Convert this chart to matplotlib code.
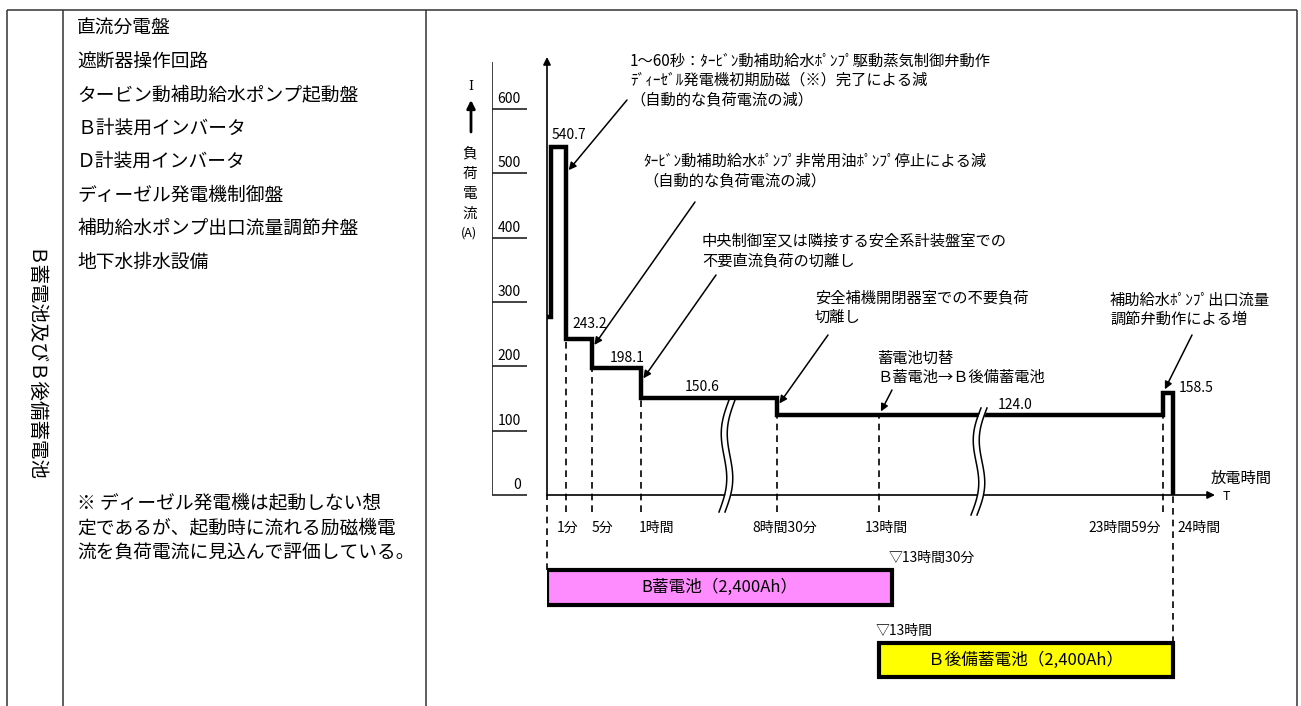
import numpy as np
import matplotlib
matplotlib.use('Agg')
import matplotlib.pyplot as plt

# Japanese glyphs + fallback
plt.rcParams['font.family'] = ['Noto Sans CJK JP', 'DejaVu Sans']

W, H = 1301, 706

# load current profile: time (sec) / current (A)
times = [0, 1, 60, 300, 3600, 30600, 86340, 86400]
currents = [277, 540.7, 243.2, 198.1, 150.6, 124.0, 158.5, 0]
value_labels = ['540.7', '243.2', '198.1', '150.6', '124.0', '158.5']

tick_times = [60, 300, 3600, 30600, 46800, 86340, 86400]
tick_labels = ['1分', '5分', '1時間', '8時間30分', '13時間', '23時間59分', '24時間']

scale_ticks = [0, 100, 200, 300, 400, 500, 600]

equipment = ['直流分電盤', '遮断器操作回路', 'タービン動補助給水ポンプ起動盤',
             'Ｂ計装用インバータ', 'Ｄ計装用インバータ', 'ディーゼル発電機制御盤',
             '補助給水ポンプ出口流量調節弁盤', '地下水排水設備']
note = ['※ ディーゼル発電機は起動しない想',
        '定であるが、起動時に流れる励磁機電',
        '流を負荷電流に見込んで評価している。']

batteries = ['B蓄電池（2,400Ah）', 'Ｂ後備蓄電池（2,400Ah）']
bat_start = [0, 46800]
bat_end = [48600, 86400]
bat_colors = ['#ff8cff', '#ffff00']
bat_marks = ['▽13時間30分', '▽13時間']
bat_mark_times = [48600, 46800]

notes = [
    ['1～60秒：ﾀｰﾋﾞﾝ動補助給水ﾎﾟﾝﾌﾟ駆動蒸気制御弁動作',
     'ﾃﾞｨｰｾﾞﾙ発電機初期励磁（※）完了による減',
     '（自動的な負荷電流の減）'],
    ['ﾀｰﾋﾞﾝ動補助給水ﾎﾟﾝﾌﾟ非常用油ﾎﾟﾝﾌﾟ停止による減',
     '（自動的な負荷電流の減）'],
    ['中央制御室又は隣接する安全系計装盤室での',
     '不要直流負荷の切離し'],
    ['安全補機開閉器室での不要負荷',
     '切離し'],
    ['蓄電池切替',
     'Ｂ蓄電池→Ｂ後備蓄電池'],
    ['補助給水ﾎﾟﾝﾌﾟ出口流量',
     '調節弁動作による増'],
]
# what each note points at (time sec, current A)
note_targets = [(60, 500), (300, 228), (3600, 176), (30600, 137), (46800, 124), (86340, 158.5)]

# ---- layout (pixels) ----
note_pos = [(630, 61), (643, 161), (702, 241), (815, 298), (877, 358), (1110, 300)]
note_tail = [(627, 100), (695, 202), (716, 275), (828, 335), (892, 390), (1192, 335)]
value_off = [(18, 12), (24, 15), (35, 10), (61, 11), (238, 10), (33, 5)]
tick_off = [(2, 'center'), (10, 'center'), (15, 'center'), (8, 'center'),
            (7, 'center'), (-2, 'right'), (4, 'left')]

# broken time axis: time -> drawing position
knot_t = np.array([0, 1, 60, 300, 3600, 30600, 46800, 86340, 86400], float)
knot_px = np.array([547, 551, 566, 592, 641, 777, 879, 1163, 1173], float)

Y0 = 495            # pixel row of 0 A
PX_PER_A = (495 - 109) / 600.0


def px2v(py):
    return (Y0 - py) / PX_PER_A


def interp_ext(x, xp, fp):
    x = np.asarray(x, float)
    y = np.interp(x, xp, fp)
    lo = fp[0] + (x - xp[0]) * (fp[1] - fp[0]) / (xp[1] - xp[0])
    hi = fp[-1] + (x - xp[-1]) * (fp[-1] - fp[-2]) / (xp[-1] - xp[-2])
    return np.where(x < xp[0], lo, np.where(x > xp[-1], hi, y))


def fwd(t):
    return interp_ext(t, knot_t, knot_px)


def inv(p):
    return interp_ext(p, knot_px, knot_t)


def cur_at(t):
    i = np.searchsorted(times, t, side='right') - 1
    return currents[max(i, 0)]


def draw_break(axo, x0, y0, y1):
    s = np.linspace(0, 1, 80)
    y = y0 + s * (y1 - y0)
    xc = x0 - 10 * (s - 0.5) - 5 * np.sin(2 * np.pi * s)
    axo.fill_betweenx(y, xc - 3, xc + 3, color='white', lw=0, zorder=5)
    axo.plot(xc - 3, y, color='k', lw=1.1, zorder=6)
    axo.plot(xc + 3, y, color='k', lw=1.1, zorder=6)


fig = plt.figure(figsize=(W / 100, H / 100), dpi=100)
fig.patch.set_facecolor('white')


def box(x0, y0, x1, y1):
    return [x0 / W, 1 - y1 / H, (x1 - x0) / W, (y1 - y0) / H]


# ---- main chart ----
ax = fig.add_axes(box(547, 50, 1240, 700))
ax.set_xscale('function', functions=(fwd, inv))
ax.set_xlim(0, float(inv(1240)))
ax.set_ylim(px2v(700), px2v(50))
ax.axis('off')

ax.plot(times, currents, drawstyle='steps-post', color='k', lw=3.2,
        solid_joinstyle='miter', solid_capstyle='butt', zorder=3)

# axes arrows
arr = dict(arrowstyle='-|>', color='k', lw=1.2, mutation_scale=11, shrinkA=0, shrinkB=0)
ax.annotate('', xy=(0, px2v(57)), xytext=(0, 0), arrowprops=arr)
ax.annotate('', xy=(float(inv(1215)), 0), xytext=(0, 0), arrowprops=arr)

# dashed guides
dash = (0, (4, 3))
for t in tick_times[:-1]:
    top = min(cur_at(t), cur_at(t - 0.5))
    ax.vlines(t, px2v(512), top, colors='k', lw=1.2, linestyles=dash, clip_on=False)
ax.vlines(0, px2v(570), 0, colors='k', lw=1.2, linestyles=dash, clip_on=False)
ax.vlines(86400, px2v(643), 0, colors='k', lw=1.2, linestyles=dash, clip_on=False)

# value labels
for lab, t, v, (dx, dy) in zip(value_labels, times[1:7], currents[1:7], value_off):
    ax.annotate(lab, (t, v), xytext=(dx, dy), textcoords='offset pixels',
                ha='center', va='center', fontsize=10)

# time tick labels
for lab, t, (dx, ha) in zip(tick_labels, tick_times, tick_off):
    ax.annotate(lab, (t, 0), xytext=(dx, -33), textcoords='offset pixels',
                ha=ha, va='center', fontsize=10)

# battery bars
bar_y = [px2v(587.5), px2v(660)]
ax.barh(bar_y, np.array(bat_end) - np.array(bat_start), left=bat_start,
        height=34.5 / PX_PER_A, color=bat_colors, edgecolor='k', lw=3, zorder=4)
for lab, s, e, y in zip(batteries, bat_start, bat_end, bar_y):
    xm = float(inv((fwd(s) + fwd(e)) / 2))
    ax.text(xm, y, lab, ha='center', va='center', fontsize=12, zorder=5)
for lab, t, y in zip(bat_marks, bat_mark_times, bar_y):
    ax.annotate(lab, (t, y + 17.25 / PX_PER_A), xytext=(-3, 12), textcoords='offset pixels',
                ha='left', va='center', fontsize=10)

# ---- current scale on the left ----
ax_r = fig.add_axes(box(492, 50, 530, 700))
ax_r.set_xlim(0, 1)
ax_r.set_ylim(px2v(700), px2v(50))
ax_r.axis('off')
ax_r.vlines(0, 0, px2v(62), colors='#222222', lw=1.2)
ax_r.hlines(scale_ticks, 0, 35 / 38, colors='#222222', lw=1.2)
for v in scale_ticks:
    ax_r.annotate(str(v), (0.76, v), xytext=(0, 10), textcoords='offset pixels',
                  ha='right', va='center', fontsize=10)

# ---- overlay in pixel coordinates: table, texts, notes ----
ov = fig.add_axes([0, 0, 1, 1], zorder=3)
ov.set_xlim(0, W)
ov.set_ylim(H, 0)
ov.axis('off')
ov.patch.set_alpha(0)

ov.hlines(10, 7, 1297, colors='#333333', lw=1.1)
ov.vlines([7, 63, 426, 1297], 10, H, colors='#333333', lw=1.1)

ov.text(33, 366, 'Ｂ蓄電池及びＢ後備蓄電池', rotation=-90, ha='center', va='center', fontsize=14)

for i, s in enumerate(equipment):
    ov.text(77, 28 + i * 33.4, s, ha='left', va='center', fontsize=13.5)
for i, s in enumerate(note):
    ov.text(77, 503 + i * 25, s, ha='left', va='center', fontsize=13.5)

# y label
ov.text(471, 87, 'I', family='DejaVu Serif', ha='center', va='center', fontsize=9)
ov.annotate('', xy=(471, 100), xytext=(471, 132),
            arrowprops=dict(arrowstyle='-|>', color='k', lw=2, mutation_scale=12,
                            shrinkA=0, shrinkB=0))
for i, ch in enumerate('負荷電流'):
    ov.text(470, 154 + i * 20, ch, ha='center', va='center', fontsize=10.5)
ov.text(469, 233, '(A)', ha='center', va='center', fontsize=9)

ov.text(1241, 478, '放電時間', ha='center', va='center', fontsize=11)
ov.text(1226, 497, 'T', ha='center', va='center', fontsize=9)

# notes + arrows
for lines, (x, y), tail, (tt, tv) in zip(notes, note_pos, note_tail, note_targets):
    for j, s in enumerate(lines):
        ov.text(x, y + j * 19.5, s, ha='left', va='center', fontsize=11)
    ax.annotate('', xy=(tt, tv), xytext=tail, textcoords=ov.transData,
                arrowprops=dict(arrowstyle='-|>', color='k', lw=1.1, mutation_scale=11,
                                shrinkA=0, shrinkB=3))

# axis breaks
draw_break(ov, 727, 400, 512)
draw_break(ov, 979, 408, 515)

fig.savefig('out.png', dpi=100, facecolor='white')
